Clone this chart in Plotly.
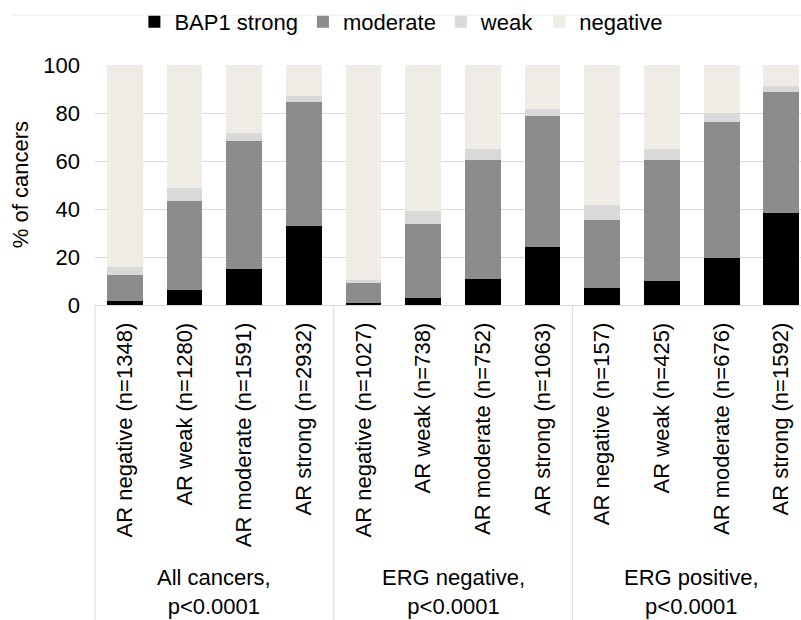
import plotly.graph_objects as go

# BAP1 staining (% of cancers) by AR expression, for all cancers and by ERG status
categories = [
    "AR negative (n=1348)", "AR weak (n=1280)", "AR moderate (n=1591)", "AR strong (n=2932)",
    "AR negative (n=1027)", "AR weak (n=738)", "AR moderate (n=752)", "AR strong (n=1063)",
    "AR negative (n=157)", "AR weak (n=425)", "AR moderate (n=676)", "AR strong (n=1592)",
]
groups = ["All cancers,<br>p&lt;0.0001", "ERG negative,<br>p&lt;0.0001", "ERG positive,<br>p&lt;0.0001"]

bap1_strong = [1.6, 6.2, 14.8, 32.9, 0.7, 3.1, 10.9, 24.1, 6.9, 10.2, 19.6, 38.3]
bap1_moderate = [10.7, 37.0, 53.6, 51.8, 8.4, 30.6, 49.6, 54.5, 28.4, 50.4, 56.7, 50.4]
bap1_weak = [3.4, 5.6, 3.2, 2.5, 1.4, 5.3, 4.6, 3.0, 6.2, 4.5, 3.8, 2.5]
bap1_negative = [84.3, 51.2, 28.4, 12.8, 89.5, 61.0, 34.9, 18.4, 58.5, 34.9, 19.9, 8.8]

y_ticks = [0, 20, 40, 60, 80, 100]

series = [
    ("BAP1 strong", bap1_strong, "#000000"),
    ("moderate", bap1_moderate, "#8c8c8c"),
    ("weak", bap1_weak, "#d9d9d9"),
    ("negative", bap1_negative, "#efebe5"),
]

FONT = "Liberation Sans, Arial, sans-serif"
GRID = "#d9d9d9"

fig = go.Figure()
for name, vals, color in series:
    fig.add_trace(go.Bar(
        x=categories, y=vals, name=name,
        marker=dict(color=color, line=dict(width=0)),
        width=0.6,
    ))

fig.update_layout(
    width=801, height=620,
    margin=dict(l=95, r=0, t=65, b=315, autoexpand=False),
    barmode="stack",
    plot_bgcolor="white", paper_bgcolor="white",
    font=dict(family=FONT, size=22, color="#000000"),
    showlegend=True,
    legend=dict(
        orientation="h", x=0.434, xanchor="center", y=1.179, yanchor="middle",
        traceorder="normal", itemwidth=30, font=dict(size=22),
        bgcolor="rgba(0,0,0,0)",
    ),
    xaxis=dict(
        type="category", categoryorder="array", categoryarray=categories,
        range=[-0.5, 11.33], tickangle=-90, showgrid=False,
        showline=True, linecolor=GRID, linewidth=1, ticks="",
        ticklabelstandoff=8, tickfont=dict(size=22), automargin=False,
    ),
    yaxis=dict(
        range=[0, 100], tickvals=y_ticks, showgrid=True, gridcolor=GRID,
        gridwidth=1, zeroline=False, showline=False, ticks="",
        ticklabelstandoff=14, tickfont=dict(size=22), automargin=False,
    ),
)

# y-axis title
fig.add_annotation(
    text="% of cancers", xref="paper", yref="paper", x=-0.106, y=0.5,
    textangle=-90, showarrow=False, xanchor="center", yanchor="middle",
    font=dict(size=22),
)

# group labels under each block of four bars
for gi, label in enumerate(groups):
    fig.add_annotation(
        text=label, xref="x", yref="paper", x=gi * 4 + 1.5, y=-1.196,
        showarrow=False, xanchor="center", yanchor="middle",
        font=dict(size=22),
    )

# frame lines of the category area
fig.add_shape(type="line", xref="x domain", yref="paper", x0=0, x1=0, y0=0, y1=-1.32,
              line=dict(color=GRID, width=1))
for gi in range(1, len(groups)):
    fig.add_shape(type="line", xref="x", yref="paper", x0=gi * 4 - 0.5, x1=gi * 4 - 0.5,
                  y0=0, y1=-1.32, line=dict(color=GRID, width=1))
# faint outer border across the top
fig.add_shape(type="line", xref="paper", yref="paper", x0=-0.118, x1=1.0, y0=1.208, y1=1.208,
              line=dict(color="#eeeeee", width=1))

fig.write_html("out.html")
